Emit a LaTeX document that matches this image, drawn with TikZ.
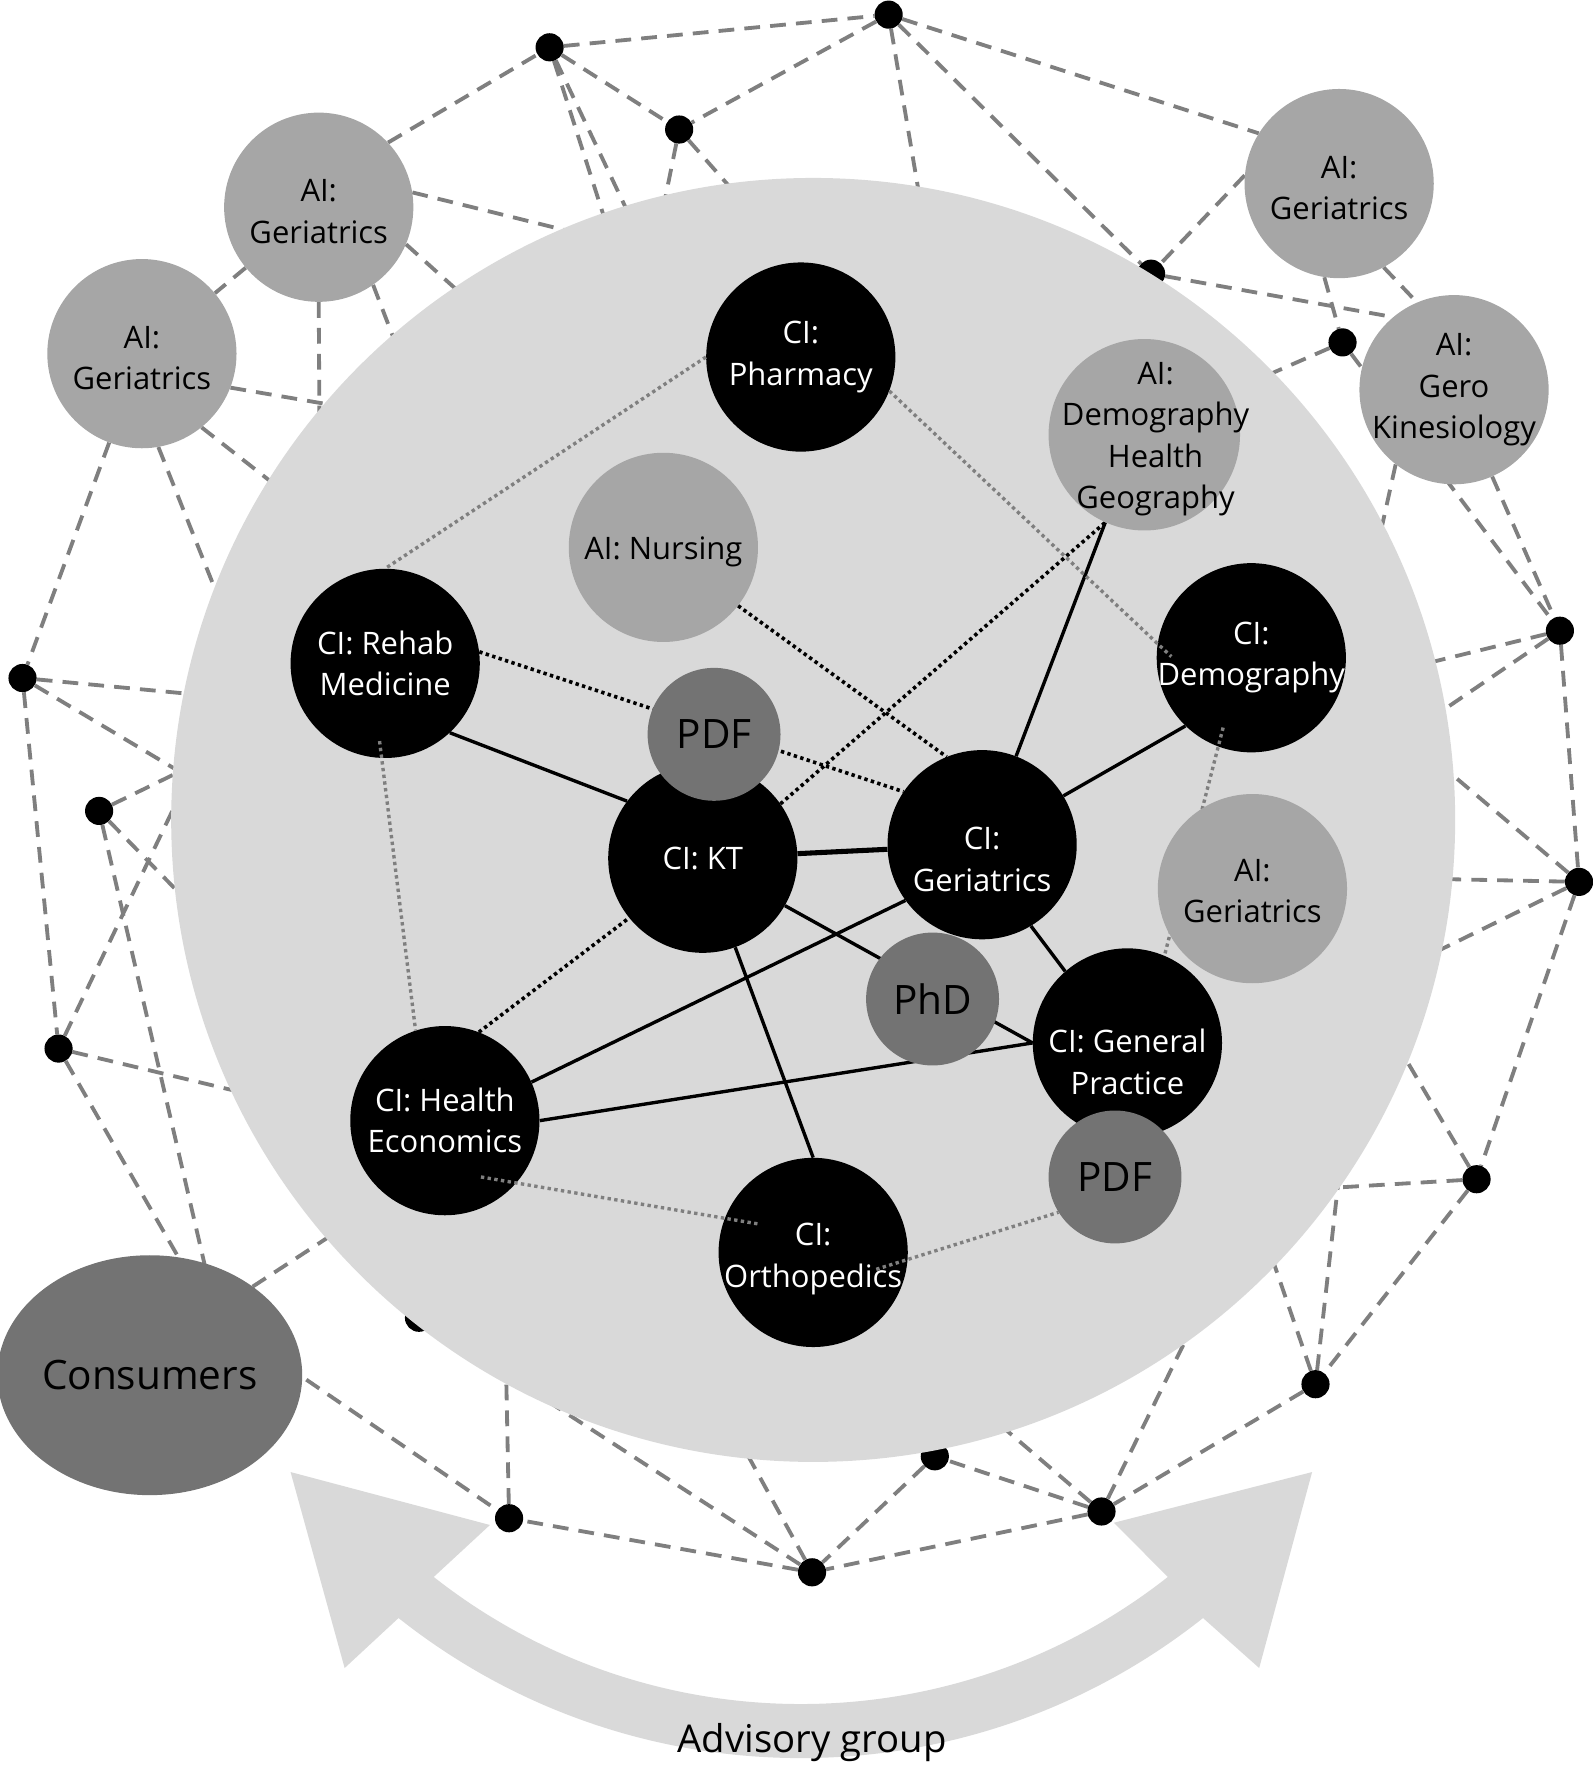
\documentclass[tikz,border=0pt]{standalone}
\usepackage{fontspec}
\setmainfont{Open Sans}
\usepackage{xcolor}
\usepackage{tikz}
\usetikzlibrary{shapes.geometric}

\definecolor{ring}{HTML}{D9D9D9}
\definecolor{aigray}{HTML}{A6A6A6}
\definecolor{midgray}{HTML}{737373}
\definecolor{netgray}{HTML}{7F7F7F}

\pgfdeclarelayer{netl}
\pgfdeclarelayer{dotl}
\pgfdeclarelayer{ringl}
\pgfdeclarelayer{linkl}
\pgfdeclarelayer{weakl}
\pgfdeclarelayer{topl}
\pgfsetlayers{netl,dotl,ringl,linkl,main,weakl,topl}

\tikzset{
  net/.style={draw=netgray, line width=3.4pt, dash pattern=on 14pt off 9pt},
  dot/.style={circle, fill=black, minimum size=25pt, inner sep=0pt},
  ai/.style={circle, fill=aigray, minimum size=168pt, inner sep=0pt},
  ci/.style={circle, fill=black, minimum size=168pt, inner sep=0pt},
  sm/.style={circle, fill=midgray, minimum size=118pt, inner sep=0pt, font=\fontsize{36}{42}\selectfont},
  lbl/.style={align=center, inner sep=0pt, font=\fontsize{27.5}{36.8}\selectfont},
  ailbl/.style={lbl, yshift=-4pt},
  wlbl/.style={lbl, text=white},
  link/.style={line width=3pt},
  tie/.style={line width=3.2pt, dash pattern=on 3pt off 3pt},
  weak/.style={draw=netgray, line width=3pt, dash pattern=on 3pt off 3pt},
}

\begin{document}
\begin{tikzpicture}[x=1pt,y=-1pt]
\useasboundingbox (0,0) rectangle (1414,1568);

\begin{pgfonlayer}{dotl}
\node[dot] (n1) at (488,42) {};
\node[dot] (n2) at (789,13) {};
\node[dot] (n3) at (603,115) {};
\node[dot] (n4) at (1022,243) {};
\node[dot] (n5) at (1192,304) {};
\node[dot] (n6) at (1385,560) {};
\node[dot] (n7) at (1402,783) {};
\node[dot] (n8) at (1311,1047) {};
\node[dot] (n9) at (1168,1229) {};
\node[dot] (n10) at (978,1342) {};
\node[dot] (n11) at (830,1293) {};
\node[dot] (n12) at (721,1396) {};
\node[dot] (n13) at (452,1348) {};
\node[dot] (n14) at (372,1170) {};
\node[dot] (n15) at (52,931) {};
\node[dot] (n16) at (88,720) {};
\node[dot] (n17) at (20,602) {};
\node[ellipse, fill=midgray, minimum width=267pt, minimum height=213pt, inner sep=0pt, font=\fontsize{36}{42}\selectfont] (cons) at (133,1221) {Consumers};
\node[ai, label={[ailbl]center:{AI:\\Geriatrics}}] (aigerA) at (283,184) {};
\node[ai, label={[ailbl]center:{AI:\\Geriatrics}}] (aigerB) at (126,314) {};
\node[ai, label={[ailbl]center:{AI:\\Geriatrics}}] (aigerC) at (1189,163) {};
\node[ai, label={[lbl]center:{AI:\\Gero\\Kinesiology}}] (aigero) at (1291,346) {};
\end{pgfonlayer}

\begin{pgfonlayer}{ringl}
\node[circle, fill=ring, minimum size=1140pt, inner sep=0pt] (team) at (722,728) {};
\end{pgfonlayer}

\node[ci, label={[wlbl]center:{CI:\\Pharmacy}}] (pharm) at (711,317) {};
\node[ci, label={[wlbl]center:{CI: Rehab\\Medicine}}] (rehab) at (342,589) {};
\node[ci, label={[wlbl]center:{CI:\\Demography}}] (demo) at (1111,584) {};
\node[ci, label={[wlbl]center:{CI: KT}}] (kt) at (624,762) {};
\node[ci, label={[wlbl,yshift=-13pt]center:{CI:\\Geriatrics}}] (geri) at (872,750) {};
\node[ci, label={[wlbl,yshift=-17pt]center:{CI: General\\Practice}}] (gp) at (1001,926) {};
\node[ci, label={[wlbl]center:{CI: Health\\Economics}}] (heco) at (395,995) {};
\node[ci, label={[wlbl,yshift=-6pt]center:{CI:\\Orthopedics}}] (ortho) at (722,1112) {};
\node[font=\fontsize{34}{40}\selectfont] (adv) at (721,1547) {Advisory group};

\begin{pgfonlayer}{topl}
\node[ai, label={[ailbl]center:{AI: Nursing}}] (ainurse) at (589,486) {};
\node[ai, minimum size=170pt, label={[ailbl,xshift=10pt]center:{AI:\\Demography\\Health\\Geography}}] (aidemo) at (1016,386) {};
\node[ai, label={[lbl,yshift=-2pt]center:{AI:\\Geriatrics}}] (aigerD) at (1112,789) {};
\node[sm] (pdfA) at (634,652) {PDF};
\node[sm] (phd) at (828,887) {PhD};
\node[sm] (pdfB) at (990,1045) {PDF};
\end{pgfonlayer}

\begin{pgfonlayer}{netl}
\fill[ring] ([shift={(711,986)}]128.4:575) arc[start angle=128.4, end angle=51.6, radius=575]
  -- (1118,1481) -- (1165,1307) -- (989,1352) -- ([shift={(711,986)}]51.8:527)
  arc[start angle=51.8, end angle=128.2, radius=527]
  -- (435,1354) -- (258,1307) -- (306,1481) -- cycle;
\coordinate (h1) at (565,220);
\coordinate (h2) at (463,309);
\coordinate (h3) at (377,372);
\coordinate (h4) at (284,440);
\coordinate (h5) at (350,369);
\coordinate (h6) at (301,475);
\coordinate (h7) at (218,591);
\coordinate (h8) at (241,623);
\coordinate (h9) at (223,723);
\coordinate (h10) at (211,660);
\coordinate (h11) at (209,844);
\coordinate (h12) at (187,649);
\coordinate (h13) at (282,986);
\coordinate (h14) at (355,1057);
\coordinate (h15) at (448,1150);
\coordinate (h16) at (626,1223);
\coordinate (h17) at (834,1219);
\coordinate (h18) at (1085,1124);
\coordinate (h19) at (1106,1049);
\coordinate (h20) at (1195,990);
\coordinate (h21) at (1109,1059);
\coordinate (h22) at (1209,874);
\coordinate (h23) at (1247,652);
\coordinate (h24) at (1208,779);
\coordinate (h25) at (1216,874);
\coordinate (h26) at (1197,606);
\coordinate (h27) at (1216,675);
\coordinate (h28) at (1210,544);
\coordinate (h29) at (1057,363);
\coordinate (h30) at (828,243);
\coordinate (h31) at (576,248);
\coordinate (h32) at (701,226);
\coordinate (h33) at (556,254);
\coordinate (h34) at (590,257);
\coordinate (c1) at (195,1180);
\coordinate (c2) at (234,1199);
\coordinate (c3) at (205,1155);
\draw[net] (aigerA.43) -- (n1);
\draw[net] (n1) -- (n2);
\draw[net] (n1) -- (n3);
\draw[net] (n2) -- (n3);
\draw[net] (n1) -- (h33);
\draw[net] (n1) -- (h34);
\draw[net] (n3) -- (h31);
\draw[net] (n3) -- (h32);
\draw[net] (n2) -- (h30);
\draw[net] (n2) -- (n4);
\draw[net] (n2) -- (aigerC.148);
\draw[net] (aigerC.175) -- (n4);
\draw[net] (aigerC.-99) -- (n5);
\draw[net] (aigerC.-62) -- (aigero.113);
\draw[net] (n4) -- (aigero.130);
\draw[net] (n5) -- (h29);
\draw[net] (n5) -- (n6);
\draw[net] (aigero) -- (n6);
\draw[net] (aigero.-128) -- (h28);
\draw[net] (n6) -- (h26);
\draw[net] (n6) -- (h27);
\draw[net] (n6) -- (n7);
\draw[net] (n7) -- (h23);
\draw[net] (n7) -- (h24);
\draw[net] (n7) -- (h25);
\draw[net] (n7) -- (n8);
\draw[net] (n8) -- (h21);
\draw[net] (n8) -- (h22);
\draw[net] (n8) -- (n9);
\draw[net] (n9) -- (h19);
\draw[net] (n9) -- (h20);
\draw[net] (n9) -- (n10);
\draw[net] (n10) -- (h17);
\draw[net] (n10) -- (h18);
\draw[net] (n10) -- (n11);
\draw[net] (n10) -- (n12);
\draw[net] (n11) -- (n12);
\draw[net] (n12) -- (h16);
\draw[net] (n12) -- (n14);
\draw[net] (n12) -- (n13);
\draw[net] (n13) -- (h15);
\draw[net] (c2) -- (n13);
\draw[net] (c3) -- (h14);
\draw[net] (n16) -- (c1);
\draw[net] (n15) -- (c1);
\draw[net] (n15) -- (h12);
\draw[net] (n15) -- (h13);
\draw[net] (n17) -- (n15);
\draw[net] (n16) -- (h10);
\draw[net] (n16) -- (h11);
\draw[net] (n17) -- (h8);
\draw[net] (n17) -- (h9);
\draw[net] (aigerB) -- (n17);
\draw[net] (aigerB.-21) -- (h5);
\draw[net] (aigerB.-51) -- (h6);
\draw[net] (aigerB.-80) -- (h7);
\draw[net] (aigerA) -- (aigerB);
\draw[net] (aigerA.9) -- (h1);
\draw[net] (aigerA.-23) -- (h2);
\draw[net] (aigerA.-55) -- (h3);
\draw[net] (aigerA.south) -- (h4);
\end{pgfonlayer}

\begin{pgfonlayer}{linkl}
\draw[link] (rehab.-47) -- (kt.143);
\draw[link, line width=4.5pt] (kt) -- (geri);
\draw[link] (geri.69) -- (aidemo.246);
\draw[link] (geri.31) -- (demo.226);
\draw[link] (geri.-59) -- (gp.131);
\draw[link] (kt.-30) -- (gp.west);
\draw[link] (heco.24) -- (geri.216);
\draw[link] (heco.east) -- (gp.west);
\draw[link] (kt.-70) -- (ortho.north);
\draw[tie] (rehab.7) -- (geri.146);
\draw[tie] (ainurse.-38) -- (geri.112);
\draw[tie] (kt.35) -- (aidemo.246);
\draw[tie] (heco.69) -- (kt.219);
\end{pgfonlayer}

\begin{pgfonlayer}{weakl}
\coordinate (dm1) at (1040,583);
\coordinate (dm2) at (1086,646);
\coordinate (rh1) at (337,658);
\coordinate (he1) at (427,1045);
\coordinate (or1) at (675,1087);
\coordinate (or2) at (778,1127);
\draw[weak] (pharm.west) -- (rehab.north);
\draw[weak] (pharm.-21) -- (dm1);
\draw[weak] (dm2) -- (gp.67);
\draw[weak] (rh1) -- (heco.108);
\draw[weak] (he1) -- (or1);
\draw[weak] (or2) -- (pdfB.212);
\end{pgfonlayer}
\end{tikzpicture}
\end{document}
